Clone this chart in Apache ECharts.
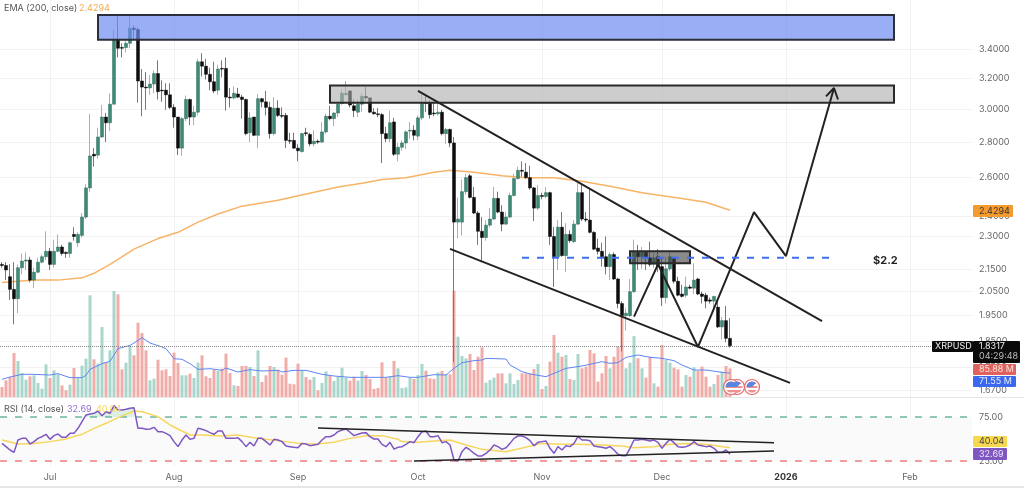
<!DOCTYPE html>
<html>
<head>
<meta charset="utf-8">
<style>html,body{margin:0;padding:0;background:#fff}#chart{width:1024px;height:488px}</style>
<script src="https://cdn.jsdelivr.net/npm/echarts@6/dist/echarts.min.js"></script>
</head>
<body>
<div id="chart"></div>
<script>
// XRPUSD daily candles, starting 2025-06-19: [open, close, low, high]
const candles = [
[2.17,2.165,2.155,2.18],[2.165,2.145,2.10,2.18],[2.115,2.06,2.015,2.17],[2.06,2.02,1.915,2.18],[2.02,2.155,1.96,2.17],
[2.155,2.185,2.125,2.22],[2.185,2.19,2.145,2.225],[2.19,2.10,2.09,2.205],[2.10,2.135,2.065,2.155],[2.135,2.18,2.13,2.20],
[2.18,2.205,2.175,2.215],[2.205,2.23,2.19,2.325],[2.23,2.17,2.145,2.245],[2.17,2.23,2.155,2.285],[2.23,2.25,2.225,2.31],
[2.25,2.22,2.21,2.26],[2.225,2.22,2.20,2.23],[2.22,2.27,2.20,2.275],[2.31,2.30,2.28,2.345],[2.27,2.31,2.25,2.32],
[2.305,2.395,2.295,2.415],[2.395,2.545,2.385,2.565],[2.545,2.72,2.525,2.97],[2.73,2.72,2.66,2.765],[2.725,2.83,2.705,2.885],
[2.83,2.95,2.825,3.025],[2.95,2.915,2.80,2.975],[2.915,3.03,2.865,3.10],[3.03,3.465,3.03,3.54],[3.465,3.405,3.34,3.65],
[3.41,3.405,3.34,3.44],[3.41,3.44,3.375,3.46],[3.44,3.55,3.405,3.65],[3.55,3.54,3.465,3.57],[3.54,3.18,3.04,3.555],
[3.18,3.14,2.955,3.26],[3.14,3.135,2.995,3.24],[3.135,3.16,3.09,3.22],[3.16,3.23,3.10,3.25],[3.23,3.11,3.06,3.32],
[3.12,3.115,3.045,3.185],[3.12,3.09,2.995,3.165],[3.09,3.01,3.00,3.165],[3.01,2.95,2.885,3.03],[2.95,2.765,2.725,2.95],
[2.765,2.94,2.72,2.95],[2.94,3.06,2.925,3.085],[3.06,2.95,2.90,3.065],[2.95,2.98,2.90,3.02],[2.98,3.31,2.96,3.33],
[3.31,3.28,3.21,3.37],[3.28,3.225,3.19,3.33],[3.225,3.175,3.12,3.27],[3.175,3.115,3.10,3.31],[3.12,3.26,3.09,3.29],
[3.265,3.26,3.205,3.32],[3.265,3.075,2.99,3.34],[3.075,3.07,3.01,3.135],[3.07,3.10,3.06,3.145],[3.095,3.075,3.07,3.135],
[3.075,3.06,2.94,3.09],[3.06,2.85,2.84,3.065],[2.855,2.945,2.80,2.98],[2.95,2.84,2.835,2.95],[2.84,3.065,2.765,3.095],
[3.065,3.045,3.01,3.07],[3.045,3.01,2.96,3.115],[3.01,2.85,2.82,3.045],[2.85,3.005,2.84,3.075],[3.005,2.96,2.95,3.055],
[2.96,2.955,2.945,3.01],[2.96,2.81,2.765,2.975],[2.81,2.805,2.79,2.855],[2.81,2.765,2.76,2.855],[2.765,2.75,2.69,2.79],
[2.745,2.85,2.74,2.855],[2.855,2.85,2.835,2.885],[2.845,2.79,2.775,2.855],[2.79,2.805,2.775,2.87],[2.805,2.80,2.79,2.815],
[2.80,2.86,2.795,2.92],[2.86,2.955,2.85,2.97],[2.955,2.94,2.93,3.02],[2.94,2.975,2.895,2.98],[2.975,3.03,2.95,3.04],
[3.035,3.10,3.025,3.125],[3.09,3.10,3.09,3.18],[3.115,3.025,3.01,3.12],[3.02,2.99,2.95,3.06],[2.98,3.03,2.95,3.06],
[3.03,3.08,2.98,3.10],[3.08,3.07,3.055,3.14],[3.07,2.98,2.975,3.075],[2.98,2.97,2.965,3.005],[2.97,2.965,2.95,3.005],
[2.965,2.85,2.68,2.975],[2.85,2.82,2.80,2.89],[2.82,2.915,2.80,2.99],[2.92,2.73,2.72,2.945],[2.73,2.77,2.69,2.795],
[2.77,2.795,2.75,2.81],[2.795,2.86,2.76,2.87],[2.865,2.87,2.82,2.92],[2.87,2.84,2.81,2.90],[2.835,2.945,2.81,2.96],
[2.945,3.04,2.93,3.10],[3.04,3.035,2.98,3.085],[3.04,2.965,2.94,3.055],[2.975,2.97,2.955,3.045],[2.97,2.98,2.96,3.045],
[2.98,2.85,2.84,2.995],[2.85,2.875,2.79,2.885],[2.875,2.795,2.77,2.88],[2.795,2.37,1.77,2.83],[2.37,2.385,2.29,2.495],
[2.37,2.525,2.305,2.59],[2.525,2.60,2.51,2.62],[2.61,2.495,2.49,2.62],[2.495,2.415,2.41,2.55],[2.415,2.325,2.26,2.425],
[2.325,2.295,2.18,2.395],[2.295,2.355,2.28,2.38],[2.355,2.385,2.345,2.44],[2.385,2.49,2.38,2.55],[2.49,2.42,2.415,2.525],
[2.42,2.36,2.325,2.455],[2.36,2.395,2.355,2.42],[2.395,2.505,2.39,2.52],[2.505,2.595,2.50,2.62],[2.595,2.64,2.59,2.66],
[2.64,2.635,2.605,2.69],[2.63,2.60,2.595,2.68],[2.60,2.545,2.535,2.665],[2.545,2.44,2.375,2.55],[2.44,2.505,2.43,2.56],
[2.505,2.50,2.485,2.52],[2.50,2.52,2.49,2.55],[2.52,2.30,2.26,2.525],[2.30,2.205,2.07,2.345],[2.205,2.345,2.145,2.38],
[2.345,2.21,2.205,2.42],[2.21,2.31,2.135,2.365],[2.31,2.28,2.27,2.33],[2.275,2.36,2.27,2.38],[2.36,2.52,2.355,2.57],
[2.52,2.385,2.375,2.56],[2.385,2.38,2.37,2.42],[2.38,2.32,2.315,2.54],[2.32,2.24,2.235,2.325],[2.245,2.23,2.215,2.29],
[2.23,2.205,2.16,2.27],[2.205,2.16,2.125,2.30],[2.16,2.215,2.10,2.225],[2.215,2.105,2.10,2.225],[2.105,2.00,1.98,2.11],
[2.00,1.95,1.81,2.01],[1.95,1.96,1.89,1.98],[1.95,2.05,1.945,2.105],[2.05,2.225,2.045,2.285],[2.225,2.205,2.145,2.26],
[2.205,2.225,2.15,2.25],[2.225,2.20,2.145,2.23],[2.20,2.17,2.16,2.275],[2.17,2.20,2.155,2.22],[2.205,2.16,2.135,2.24],
[2.16,2.025,1.99,2.20],[2.025,2.15,2.00,2.205],[2.15,2.205,2.14,2.225],[2.20,2.095,2.085,2.205],[2.095,2.035,2.03,2.115],
[2.04,2.03,2.025,2.08],[2.035,2.07,2.025,2.115],[2.07,2.065,2.06,2.08],[2.065,2.10,2.04,2.175],[2.105,2.04,2.035,2.11],
[2.04,2.03,2.00,2.05],[2.035,2.01,1.98,2.045],[2.015,2.01,2.00,2.025],[2.01,2.03,1.98,2.03],[1.985,1.905,1.90,2.02],
[1.905,1.93,1.855,1.945],[1.93,1.86,1.845,1.99],[1.86,1.8317,1.825,1.94]
];

// Daily volume in millions
const volumes = [
30,50,60,132,108,72,52,62,65,42,25,98,57,80,68,35,20,37,87,58,94,115,305,113,100,210,105,140,318,308,
83,103,153,125,223,192,140,50,55,112,80,83,63,133,102,65,65,70,57,103,125,62,57,82,78,85,130,72,35,33,
93,93,90,63,140,45,65,93,90,82,67,118,40,38,100,80,60,52,60,20,42,77,65,48,60,88,58,49,61,49,
78,66,54,24,27,104,58,61,108,86,27,29,58,54,66,99,79,56,54,74,78,69,68,319,181,123,116,129,81,121,
149,43,51,58,71,71,41,71,39,51,71,71,71,84,99,24,33,106,186,133,121,126,54,51,129,86,91,141,131,46,
71,123,86,121,151,241,86,103,183,116,86,58,121,41,31,156,111,103,88,83,31,66,61,89,79,91,61,31,39,66,
76,93,85.88
];

// Sampled vertices [day index, value]
const emaPoints = [[0,2.09],[8,2.10],[14,2.10],[20,2.11],[23,2.13],[27,2.17],[33,2.24],[39,2.29],[44,2.32],[49,2.37],[54,2.41],[60,2.45],[69,2.48],[84,2.55],[90,2.57],[95,2.59],[101,2.60],[108,2.63],[112,2.64],[118,2.63],[125,2.61],[131,2.60],[138,2.60],[145,2.58],[153,2.55],[160,2.52],[170,2.49],[176,2.47],[182,2.4294]];
const volumeMaPoints = [[0,53],[2,60],[5,68],[8,68],[12,66],[14,70],[17,58],[20,58],[21,65],[22,83],[25,100],[27,107],[29,145],[32,155],[33,162],[35,178],[37,162],[40,150],[41,145],[43,115],[45,113],[47,100],[49,83],[52,85],[55,80],[56,87],[59,75],[62,82],[65,78],[69,80],[70,75],[73,80],[76,80],[80,68],[83,63],[87,59],[91,59],[96,59],[99,64],[102,59],[104,59],[108,67],[111,66],[113,86],[115,103],[118,109],[120,111],[121,116],[126,114],[127,96],[130,76],[132,69],[136,61],[138,71],[141,86],[145,93],[150,106],[152,101],[154,103],[156,119],[159,126],[162,119],[165,116],[168,109],[170,96],[173,81],[176,81],[180,74],[182,71.55]];

// RSI (14) per day and its moving average
const rsi = [
45,41.3,37.5,34.8,48.8,50.7,50.7,44.3,47,50.7,52.6,55.3,49.6,53.8,55.7,51.9,51.9,56.4,56.4,62.1,
69.7,77.3,78.4,79.2,81.8,76.5,81,79.2,87.9,83,83,83.7,84.9,85.6,62.1,62.1,61,61.4,63.2,58.3,
58.3,56.4,53.8,47,41.3,48.8,54.5,49.6,50.7,62.1,61,59.5,57.2,55.3,59.1,59.1,50.7,50.7,50.7,51.5,
47,41.3,46.2,42,50.7,50.7,47,43.2,49.6,48.8,47,42,41.3,40.5,40.1,45,44.3,42.4,43.2,43.9,
48.8,52.6,52.6,54.5,58.3,60.2,61.4,57.6,53.8,55.3,56.8,57.2,52.6,50,50,43.9,41.3,46.2,38.6,40.5,
41.3,43.9,47,45.8,52.6,58.3,59.1,52.6,52.6,53.8,45.8,47,43.2,26.1,25,35.6,40.5,37.5,33.7,30.7,
30.7,33.7,37.5,43.2,41.3,38.2,40.1,45,50.7,53.4,53.4,51.5,48.1,42.4,46.2,47,47.7,39.4,33.7,41.3,
37.5,42.4,41.3,45,52.6,48.8,48.8,48.1,42,41.3,40.5,39.4,41.3,37.5,32.6,31,31,39.4,48.8,48.8,
49.6,48.8,47.7,48.8,46.2,39.4,45,49.6,45.8,41.3,40.5,41.3,43.2,47,43.2,42.4,41.3,42,39.4,34.8,
34.8,37.5,32.69
];
const rsiMaPoints = [[0,48.8],[4,44.3],[8,45],[12,47],[16,50],[20,55.3],[23,62.1],[26,67.8],[29,74.2],[33,81.8],[35,81],[39,75.4],[42,65.9],[45,59.1],[47,54.5],[50,54.5],[55,53.4],[59,54.5],[63,51.5],[66,49.6],[71,47],[75,44.7],[79,44.3],[83,46.2],[87,50.7],[91,53.8],[95,53.8],[99,49.6],[100,47],[104,46.2],[108,47.7],[112,48.8],[116,43.2],[120,38.2],[126,35.6],[129,38.6],[135,45],[140,43.9],[144,43.9],[150,43.2],[155,42],[158,40.1],[163,41.3],[167,43.9],[171,45],[176,43.9],[182,40.04]];

// Price scale tick values and time scale labels
const priceTicks = [3.4,3.2,3.0,2.8,2.6,2.4,2.3,2.15,2.05,1.95,1.85,1.75,1.67];
const rsiTicks = [75,25];
const timeLabels = {'2025-07-01':'Jul','2025-08-01':'Aug','2025-09-01':'Sep','2025-10-01':'Oct','2025-11-01':'Nov','2025-12-01':'Dec','2026-01-01':'2026','2026-02-01':'Feb'};

// Drawn analysis: channel, projected path, zones and levels
const channelUpper = [[104,3.115],[205,1.928]];
const channelLower = [[112,2.241],[197,1.695]];
const projectedPath = [[158,1.946],[164,2.17],[174,1.827],[188,2.42],[196,2.208],[208,3.134]];
const arrowHead = [[206,3.08],[208,3.134],[209,3.06]];
const supplyZone = [[24,3.649],[223,3.465]];
const resistanceZone = [[82,3.15],[223,3.04]];
const pivotZone = [[157,2.23],[172,2.175]];
const pivotLevel = [[130,2.2],[207,2.2]];
const rsiUpperTrend = [[79,62.5],[193,45.8]];
const rsiLowerTrend = [[103,25],[193,36.4]];

const lastPrice = 1.8317, emaValue = '2.4294', lastVolume = '85.88 M', volumeMa = '71.55 M', rsiValue = '32.69', rsiMa = '40.04';

// One category per day, extending past the last candle up to the right edge
const days = [];
for (let i = 0; i < 243; i++) {
  const d = new Date(Date.UTC(2025, 5, 19 + i));
  days.push(d.toISOString().slice(0, 10));
}
const isMonthStart = (i) => timeLabels[days[i]] !== undefined;

const FONT = 'Inter, "Liberation Sans", sans-serif';
const FONT_SIZE = 9;
const GRID = '#f2f2f2';
const GREEN = '#3f8a78', GREEN_WICK = '#8fbfb3', BLACK_WICK = '#777777';
const bodies = candles.map(([o, c]) => [o, c, Math.min(o, c), Math.max(o, c)]);
const volumeData = volumes.map((v, i) => ({
  value: v,
  itemStyle: { color: candles[i][1] >= candles[i][0] ? '#a8d6cc' : '#efaca8' }
}));
const overbought = rsi.map((v) => (v > 75 ? v : null));

const category = (gridIndex, showLabel) => ({
  type: 'category', gridIndex, data: days, boundaryGap: true,
  axisLine: { show: false }, axisTick: { show: false },
  axisLabel: {
    show: showLabel, interval: (i) => isMonthStart(i), margin: 7,
    color: '#666', fontFamily: FONT, fontSize: FONT_SIZE, hideOverlap: false,
    formatter: (v) => (timeLabels[v] === '2026' ? '{b|2026}' : timeLabels[v] || ''),
    rich: { b: { fontWeight: 'bold', color: '#333', fontFamily: FONT, fontSize: FONT_SIZE } }
  },
  splitLine: { show: gridIndex !== 1, interval: (i) => isMonthStart(i), alignWithLabel: true, lineStyle: { color: GRID, width: 1 } }
});

const segment = (name, data, opts) => Object.assign({
  name, type: 'line', data, xAxisIndex: 0, yAxisIndex: 0, symbol: 'none', silent: true, z: 8,
  lineStyle: { color: '#222', width: 2 }
}, opts);
const zone = (corners, color, borderColor) => [
  { coord: corners[0], itemStyle: { color, borderColor, borderWidth: 2 } },
  { coord: corners[1] }
];

const option = {
  animation: false,
  backgroundColor: '#fff',
  textStyle: { fontFamily: FONT },
  grid: [
    { left: 0, right: 52, top: 0, height: 397 },
    { left: 0, right: 52, top: 0, height: 397 },
    { left: 0, right: 52, top: 397, height: 69 }
  ],
  xAxis: [category(0, false), category(1, false), category(2, true)],
  yAxis: [
    {
      type: 'log', gridIndex: 0, position: 'right', min: 1.646, max: 3.765, logBase: Math.E,
      axisLine: { show: false },
      axisTick: { show: false, customValues: priceTicks },
      axisLabel: { customValues: priceTicks, color: '#666', fontFamily: FONT, fontSize: FONT_SIZE, margin: 7, padding: [4, 0, 0, 0], formatter: (v) => Number(v).toFixed(4) },
      splitLine: { show: false }
    },
    { type: 'value', gridIndex: 1, min: 0, max: 1191, show: false, splitLine: { show: false } },
    {
      type: 'value', gridIndex: 2, position: 'right', min: 19.3, max: 97.7,
      axisLine: { show: false },
      axisTick: { show: false, customValues: rsiTicks },
      axisLabel: { customValues: rsiTicks, color: '#666', fontFamily: FONT, fontSize: FONT_SIZE, margin: 7, formatter: (v) => Number(v).toFixed(2) },
      splitLine: { show: false }
    }
  ],
  series: [
    segment('Price grid', [], {
      z: 0,
      markLine: {
        silent: true, symbol: 'none', z: 0, label: { show: false },
        lineStyle: { color: GRID, type: 'solid', width: 1 },
        data: priceTicks.map((p) => ({ yAxis: p }))
      }
    }),
    { name: 'Volume', type: 'bar', xAxisIndex: 1, yAxisIndex: 1, data: volumeData, barWidth: 3, z: 1, silent: true },
    { name: 'Volume MA', type: 'line', xAxisIndex: 1, yAxisIndex: 1, data: volumeMaPoints, symbol: 'none', z: 2, silent: true, lineStyle: { color: '#5f86f2', width: 1 } },
    {
      name: 'EMA (200, close)', type: 'line', xAxisIndex: 0, yAxisIndex: 0, data: emaPoints, symbol: 'none', z: 3, silent: true,
      lineStyle: { color: '#f7b366', width: 1.5 },
      markLine: {
        silent: true, symbol: 'none', z: 3, label: { show: false },
        data: [{ yAxis: lastPrice }],
        lineStyle: { color: '#888', type: 'dotted', width: 1 }
      }
    },
    {
      name: 'Wicks', type: 'candlestick', xAxisIndex: 0, yAxisIndex: 0, data: candles, barWidth: 1, z: 4, silent: true,
      itemStyle: { color: GREEN_WICK, color0: BLACK_WICK, borderColor: GREEN_WICK, borderColor0: BLACK_WICK, borderWidth: 1 }
    },
    {
      name: 'XRPUSD', type: 'candlestick', xAxisIndex: 0, yAxisIndex: 0, data: bodies, barWidth: 3, z: 5, silent: true,
      itemStyle: { color: GREEN, color0: '#0d0d0d', borderColor: '#2f6d5e', borderColor0: '#0d0d0d', borderWidth: 0.5 }
    },
    segment('Zones', [], {
      markArea: {
        silent: true, z: 6,
        data: [
          zone(supplyZone, 'rgba(110,140,240,0.7)', '#2a2f3a'),
          zone(resistanceZone, 'rgba(175,175,175,0.62)', '#2a2a2a'),
          zone(pivotZone, 'rgba(60,60,60,0.6)', '#2a2a2a')
        ]
      }
    }),
    segment('Upper channel', channelUpper),
    segment('Lower channel', channelLower),
    segment('Projected path', projectedPath),
    segment('Arrow', arrowHead),
    segment('Pivot level', pivotLevel, { lineStyle: { color: '#3f6ff0', width: 2, type: [7, 8] } }),
    {
      name: 'RSI band', type: 'line', xAxisIndex: 2, yAxisIndex: 2, data: [], z: 1, silent: true,
      markArea: { silent: true, z: 1, itemStyle: { color: '#fafafa' }, data: [[{ yAxis: 75 }, { yAxis: 25 }]] },
      markLine: {
        silent: true, symbol: 'none', z: 2, label: { show: false },
        data: [
          { yAxis: 75, lineStyle: { color: '#6db7a3', type: [7, 8], width: 1.5 } },
          { yAxis: 25, lineStyle: { color: '#ef7f7f', type: [7, 8], width: 1.5 } }
        ]
      }
    },
    {
      name: 'Overbought', type: 'line', xAxisIndex: 2, yAxisIndex: 2, data: overbought, symbol: 'none', z: 2, silent: true,
      lineStyle: { width: 0 },
      areaStyle: { origin: 75, color: 'rgba(100,185,130,0.32)' }
    },
    { name: 'RSI MA', type: 'line', xAxisIndex: 2, yAxisIndex: 2, data: rsiMaPoints, symbol: 'none', z: 3, silent: true, lineStyle: { color: '#f6d65e', width: 1.5 } },
    { name: 'RSI', type: 'line', xAxisIndex: 2, yAxisIndex: 2, data: rsi, symbol: 'none', z: 4, silent: true, lineStyle: { color: '#7e57c2', width: 1.5 } },
    { name: 'RSI upper trend', type: 'line', xAxisIndex: 2, yAxisIndex: 2, data: rsiUpperTrend, symbol: 'none', z: 5, silent: true, lineStyle: { color: '#222', width: 1.6 } },
    { name: 'RSI lower trend', type: 'line', xAxisIndex: 2, yAxisIndex: 2, data: rsiLowerTrend, symbol: 'none', z: 5, silent: true, lineStyle: { color: '#222', width: 1.6 } }
  ]
};

// Value tags along the price scale
const tag = (x, y, w, h, fill, text, color) => ({
  type: 'group', z: 50,
  children: [
    { type: 'rect', z: 50, shape: { x, y, width: w, height: h, r: 1 }, style: { fill } },
    { type: 'text', z: 51, style: { x: x + 6, y: y + h / 2, text, fill: color, font: FONT_SIZE + 'px ' + FONT, textVerticalAlign: 'middle' } }
  ]
});
const caption = (x, y, text, fill, weight, size) => ({
  type: 'text', z: 50, style: { x, y, text, fill, font: (weight || '') + ' ' + (size || FONT_SIZE) + 'px ' + FONT, textVerticalAlign: 'middle' }
});
// Economic event badge drawn over the volume pane
const STRIPE = '#ee8f90';
const badge = (cx, cy) => ({
  type: 'group', z: 40,
  children: [
    { type: 'circle', z: 40, shape: { cx, cy, r: 7.5 }, style: { fill: '#fff', stroke: '#e4686a', lineWidth: 1.2 } },
    { type: 'circle', z: 41, shape: { cx, cy, r: 5.5 }, style: { fill: { type: 'linear', x: 0, y: 0, x2: 0, y2: 1, colorStops: [
      { offset: 0, color: STRIPE }, { offset: 0.2, color: STRIPE }, { offset: 0.2, color: '#fff' }, { offset: 0.4, color: '#fff' },
      { offset: 0.4, color: STRIPE }, { offset: 0.6, color: STRIPE }, { offset: 0.6, color: '#fff' }, { offset: 0.8, color: '#fff' },
      { offset: 0.8, color: STRIPE }, { offset: 1, color: STRIPE }] } } },
    { type: 'sector', z: 42, shape: { cx, cy, r: 5.5, r0: 0, startAngle: Math.PI, endAngle: Math.PI * 1.75 }, style: { fill: '#5a86de' } }
  ]
});

option.graphic = { elements: [
  { type: 'line', z: 10, shape: { x1: 0, y1: 397.5, x2: 1024, y2: 397.5 }, style: { stroke: '#e6e6e6', lineWidth: 1 } },
  { type: 'line', z: 10, shape: { x1: 0, y1: 487, x2: 1024, y2: 487 }, style: { stroke: '#cfcfcf', lineWidth: 1 } },
  caption(4, 8, 'EMA (200, close)', '#555'),
  caption(79, 8, emaValue, '#f5a94f'),
  caption(4, 409, 'RSI (14, close)', '#555'),
  caption(67, 409, rsiValue, '#8f6fd0'),
  caption(96, 409, rsiMa, '#f6d65e'),
  caption(873, 261, '$2.2', '#222', 'bold', 11),
  badge(737, 387), badge(731, 387), badge(752, 387),
  tag(973, 205, 40, 12, '#f59b2e', emaValue, '#333'),
  { type: 'rect', z: 50, shape: { x: 932, y: 341, width: 41, height: 11, r: 1 }, style: { fill: '#0a0a0a' } },
  caption(935, 346.5, 'XRPUSD', '#eee'),
  { type: 'rect', z: 50, shape: { x: 973, y: 341, width: 47, height: 22, r: 1 }, style: { fill: '#0a0a0a' } },
  caption(979, 346.5, lastPrice.toFixed(4), '#eee'),
  caption(979, 356.5, '04:29:48', '#bbb'),
  tag(973, 364, 43, 11, '#e0625c', lastVolume, '#fbe3e1'),
  tag(973, 376, 43, 11, '#3b68f0', volumeMa, '#e6ecff'),
  tag(973, 436, 34, 11, '#f7d84e', rsiMa, '#444'),
  tag(973, 448, 34, 12, '#7e57c2', rsiValue, '#eee7f8')
] };

const chart = echarts.init(document.getElementById('chart'), null, { renderer: 'canvas' });
chart.setOption(option);
</script>
</body>
</html>
